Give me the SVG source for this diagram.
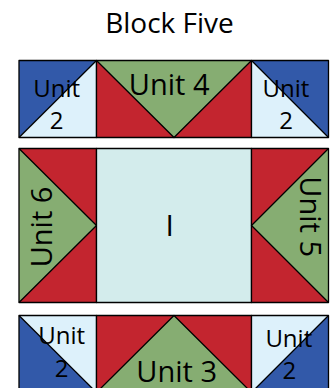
<svg xmlns="http://www.w3.org/2000/svg" width="336" height="388" viewBox="0 0 336 388">
<style>
.b{fill:#3259a9}.l{fill:#ddf1fb}.r{fill:#c3252f}.g{fill:#86ad72}.c{fill:#d3ecec}
.e{fill:none;stroke:#000;stroke-width:1.3;stroke-linejoin:round}
.t{font-family:"Open Sans","Noto Sans",sans-serif;fill:#000;text-anchor:middle}
</style>
<rect width="336" height="388" fill="#fff"/>
<text class="t" x="169.5" y="32.7" font-size="28">Block Five</text>
<g id="top-left-unit2">
<polygon class="b" points="19,60.5 96.5,60.5 19,137.5"/>
<polygon class="l" points="96.5,60.5 96.5,137.5 19,137.5"/>
<rect class="e" x="19" y="60.5" width="77.5" height="77"/>
<line class="e" x1="19" y1="137.5" x2="96.5" y2="60.5"/>
<text class="t" x="56.7" y="96.7" font-size="24">Unit</text>
<text class="t" x="56.7" y="129" font-size="24">2</text>
</g>
<g id="unit4">
<polygon class="r" points="96.5,60.5 251.5,60.5 251.5,137.5 96.5,137.5"/>
<polygon class="g" points="96.5,60.5 251.5,60.5 174,137.5"/>
<rect class="e" x="96.5" y="60.5" width="155" height="77"/>
<polyline class="e" points="96.5,60.5 174,137.5 251.5,60.5"/>
<text class="t" x="169.2" y="95" font-size="29">Unit 4</text>
</g>
<g id="top-right-unit2">
<polygon class="b" points="251.5,60.5 328.5,60.5 328.5,137.5"/>
<polygon class="l" points="251.5,60.5 328.5,137.5 251.5,137.5"/>
<rect class="e" x="251.5" y="60.5" width="77" height="77"/>
<line class="e" x1="251.5" y1="60.5" x2="328.5" y2="137.5"/>
<text class="t" x="286" y="96.7" font-size="24">Unit</text>
<text class="t" x="286" y="128.5" font-size="24">2</text>
</g>
<g id="unit6">
<rect class="r" x="19" y="148.5" width="77.5" height="154"/>
<polygon class="g" points="19,148.5 96.5,225.5 19,302.5"/>
<rect class="e" x="19" y="148.5" width="77.5" height="154"/>
<polyline class="e" points="19,148.5 96.5,225.5 19,302.5"/>
<text class="t" transform="translate(51.7,227) rotate(-90)" font-size="29">Unit 6</text>
</g>
<g id="center-I">
<rect class="c" x="96.5" y="148.5" width="155" height="154"/>
<rect class="e" x="96.5" y="148.5" width="155" height="154"/>
<text class="t" x="169.7" y="236" font-size="30">I</text>
</g>
<g id="unit5">
<rect class="r" x="251.5" y="148.5" width="77" height="154"/>
<polygon class="g" points="328.5,148.5 251.5,225.5 328.5,302.5"/>
<rect class="e" x="251.5" y="148.5" width="77" height="154"/>
<polyline class="e" points="328.5,148.5 251.5,225.5 328.5,302.5"/>
<text class="t" transform="translate(300,216.7) rotate(90)" font-size="29">Unit 5</text>
</g>
<g id="bottom-left-unit2">
<polygon class="l" points="19,315.5 96.5,315.5 96.5,392.5"/>
<polygon class="b" points="19,315.5 96.5,392.5 19,392.5"/>
<rect class="e" x="19" y="315.5" width="77.5" height="77"/>
<line class="e" x1="19" y1="315.5" x2="96.5" y2="392.5"/>
<text class="t" x="61.7" y="344.3" font-size="24">Unit</text>
<text class="t" x="61.7" y="377.3" font-size="24">2</text>
</g>
<g id="unit3">
<rect class="r" x="96.5" y="315.5" width="155" height="77"/>
<polygon class="g" points="174,315.5 251.5,392.5 96.5,392.5"/>
<rect class="e" x="96.5" y="315.5" width="155" height="77"/>
<polyline class="e" points="96.5,392.5 174,315.5 251.5,392.5"/>
<text class="t" x="176.7" y="381.7" font-size="29">Unit 3</text>
</g>
<g id="bottom-right-unit2">
<polygon class="l" points="251.5,315.5 328.5,315.5 251.5,392.5"/>
<polygon class="b" points="328.5,315.5 328.5,392.5 251.5,392.5"/>
<rect class="e" x="251.5" y="315.5" width="77" height="77"/>
<line class="e" x1="328.5" y1="315.5" x2="251.5" y2="392.5"/>
<text class="t" x="288.8" y="347.3" font-size="24">Unit</text>
<text class="t" x="289.3" y="379.3" font-size="24">2</text>
</g>
</svg>
